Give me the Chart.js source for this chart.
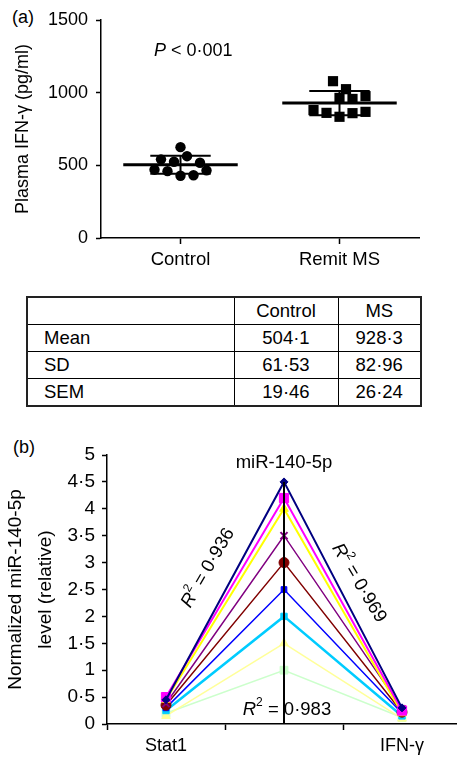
<!DOCTYPE html>
<html lang="en">
<head>
<meta charset="UTF-8">
<title>Plasma IFN-γ and miR-140-5p</title>
<script src="https://cdn.jsdelivr.net/npm/chart.js"></script>
<style>
  body { margin: 0; width: 457px; height: 757px; overflow: hidden; background: #fff; position: relative;
         font-family: "Liberation Sans", Arial, sans-serif; color: #000; }
  .tag { position: absolute; font-size: 18px; }
  #boxA { position: absolute; left: 0; top: 0; width: 457px; height: 280px; }
  #boxB { position: absolute; left: 0; top: 420px; width: 470px; height: 337px; }
  #stats { position: absolute; left: 26px; top: 296px; width: 394px; border-collapse: collapse;
           border: 2px solid #222; font-size: 18.5px; table-layout: fixed; }
  #stats td { border: 1px solid #000; height: 26px; padding: 0; text-align: center; }
  #stats td:first-child { text-align: left; padding-left: 16px; }
</style>
</head>
<body>
<div class="tag" style="left:12px;top:7px">(a)</div>
<div id="boxA"><canvas id="chartA"></canvas></div>

<table id="stats">
  <colgroup><col style="width:207px"><col style="width:104px"><col style="width:83px"></colgroup>
  <tbody id="statsBody"></tbody>
</table>

<div class="tag" style="left:13px;top:437px">(b)</div>
<div id="boxB"><canvas id="chartB"></canvas></div>

<script>
  // panel (a): plasma IFN-γ (pg/ml)
  const groups = ['Control', 'Remit MS'];
  const controlIFNg = [625, 541, 525, 563, 518, 470, 460, 428, 432, 465];
  const remitIFNg = [1079, 1024, 964, 957, 976, 880, 861, 834, 859, 868];

  // summary table
  const statCols = ['Control', 'MS'];
  const statRows = ['Mean', 'SD', 'SEM'];
  const controlStats = [504.1, 61.53, 19.46];
  const msStats = [928.3, 82.96, 26.24];

  // panel (b): normalized miR-140-5p level
  const bCategories = ['Stat1', 'miR-140-5p', 'IFN-γ'];
  const stat1Level = [0.45, 0.5, 0.45, 0.38, 0.35, 0.3, 0.25, 0.15, 0.2];
  const mirLevel = [4.5, 4.2, 4.0, 3.5, 3.0, 2.5, 2.0, 1.5, 1.0];
  const ifngLevel = [0.3, 0.25, 0.2, 0.28, 0.22, 0.2, 0.15, 0.1, 0.12];
  const r2Values = [0.936, 0.969, 0.983];

  const FONT = '"Liberation Sans", Arial, sans-serif';
  const dot = v => String(v).replace('.', '·');

  // text with italic / superscript parts, drawn centred at (0,0)
  function drawRich(ctx, parts, size) {
    const fontFor = p => (p.italic ? 'italic ' : '') + (p.sup ? size * 0.65 : size) + 'px ' + FONT;
    let w = 0;
    parts.forEach(p => { ctx.font = fontFor(p); w += ctx.measureText(p.t).width; });
    let x = -w / 2;
    ctx.fillStyle = '#000';
    ctx.textBaseline = 'middle';
    ctx.textAlign = 'left';
    parts.forEach(p => {
      ctx.font = fontFor(p);
      ctx.fillText(p.t, x, p.sup ? -size * 0.38 : 0);
      x += ctx.measureText(p.t).width;
    });
  }

  const notesPlugin = {
    id: 'notes',
    afterDraw(chart, args, opts) {
      const { ctx, scales: { x, y } } = chart;
      (opts.items || []).forEach(n => {
        ctx.save();
        ctx.translate(x.getPixelForValue(n.x), y.getPixelForValue(n.y));
        ctx.rotate((n.angle || 0) * Math.PI / 180);
        drawRich(ctx, n.parts, n.size);
        ctx.restore();
      });
    }
  };

  // ---- table ----
  const tbody = document.getElementById('statsBody');
  tbody.innerHTML = `<tr><td></td><td>${statCols[0]}</td><td>${statCols[1]}</td></tr>` +
    statRows.map((r, i) => `<tr><td>${r}</td><td>${dot(controlStats[i])}</td><td>${dot(msStats[i])}</td></tr>`).join('');

  // ---- chart (a) ----
  function barLines(center, mean, sd) {
    const cap = 0.19, half = 0.36;
    return {
      mean: [{ x: center - half, y: mean }, { x: center + half, y: mean }],
      sd: [
        { x: center - cap, y: mean + sd }, { x: center + cap, y: mean + sd }, { x: center, y: null },
        { x: center, y: mean + sd }, { x: center, y: mean - sd }, { x: center, y: null },
        { x: center - cap, y: mean - sd }, { x: center + cap, y: mean - sd }
      ]
    };
  }
  const barsC = barLines(1, controlStats[0], controlStats[1]);
  const barsM = barLines(2, msStats[0], msStats[1]);
  const lineSet = (data, w) => ({ type: 'scatter', data, showLine: true, borderColor: '#000', borderWidth: w,
                                  pointRadius: 0, spanGaps: false });

  const chartA = new Chart(document.getElementById('chartA'), {
    type: 'scatter',
    data: {
      datasets: [
        lineSet(barsC.mean, 3), lineSet(barsM.mean, 3), lineSet(barsC.sd, 2), lineSet(barsM.sd, 2),
        { data: controlIFNg.map(v => ({ x: 1, y: v })), pointStyle: 'circle', pointRadius: 5.2,
          backgroundColor: '#000', borderColor: '#000', borderWidth: 0 },
        { data: remitIFNg.map(v => ({ x: 2, y: v })), pointStyle: 'rect', pointRadius: 7.2,
          backgroundColor: '#000', borderColor: '#000', borderWidth: 0 }
      ]
    },
    options: {
      responsive: true, maintainAspectRatio: false, animation: false,
      layout: { padding: { top: 20, right: 38, left: 0, bottom: 0 } },
      plugins: {
        legend: { display: false }, tooltip: { enabled: false },
        notes: { items: [{ x: 1.08, y: 1285, size: 18, parts: [{ t: 'P', italic: true }, { t: ' < 0·001' }] }] }
      },
      scales: {
        x: {
          type: 'linear', min: 0.5, max: 2.5,
          afterBuildTicks: s => { s.ticks = [{ value: 1 }, { value: 2 }]; },
          afterFit: s => { s.height = 42; },
          ticks: { callback: v => groups[v - 1], color: '#000', font: { size: 18.5, family: FONT }, padding: 5, maxRotation: 0 },
          grid: { drawOnChartArea: false, tickLength: 6, tickColor: '#000', tickWidth: 1.5 },
          border: { color: '#000', width: 1.5 }
        },
        y: {
          min: 0, max: 1500,
          afterFit: s => { s.width = 101; },
          ticks: { stepSize: 500, callback: v => String(v), color: '#000', font: { size: 18, family: FONT }, padding: 8 },
          grid: { drawOnChartArea: false, tickLength: 5, tickColor: '#000', tickWidth: 1.5 },
          border: { color: '#000', width: 1.5 },
          title: { display: true, text: 'Plasma IFN-γ (pg/ml)', color: '#000',
                   font: { size: 18, family: FONT }, padding: { top: 12, bottom: 0 } }
        }
      }
    },
    plugins: [notesPlugin]
  });

  // spread the dots of each group sideways in rows so they do not overlap
  function swarm(chart) {
    const xs = chart.scales.x, ys = chart.scales.y;
    const pxX = xs.width / (xs.max - xs.min), pxY = ys.height / (ys.max - ys.min);
    const step = 13, diam = 10;
    [controlIFNg, remitIFNg].forEach((vals, g) => {
      const lo = Math.min(...vals), rows = {}, placed = [], off = vals.map(() => 0);
      vals.forEach((v, i) => { const r = Math.floor((v - lo) * pxY / step); (rows[r] = rows[r] || []).push(i); });
      Object.keys(rows).map(Number).sort((a, b) => b - a).forEach(r => {
        const idx = rows[r];
        const base = idx.map((_, k) => (k - (idx.length - 1) / 2) * step);
        for (let s = 0; s < 30; s++) {
          const shift = (s % 2 ? -1 : 1) * Math.ceil(s / 2) * step / 2;
          const ok = idx.every((i, k) => placed.every(p =>
            Math.hypot(base[k] + shift - p.x, (vals[i] - p.v) * pxY) >= diam));
          if (ok) {
            idx.forEach((i, k) => { off[i] = base[k] + shift; placed.push({ x: off[i], v: vals[i] }); });
            break;
          }
        }
      });
      chart.data.datasets[4 + g].data = vals.map((v, i) => ({ x: g + 1 + off[i] / pxX, y: v }));
    });
    chart.update('none');
  }
  swarm(chartA);

  // ---- chart (b) ----
  const colors = ['#000080', '#ff00ff', '#ffff00', '#800080', '#800000', '#0000ff', '#00ccff', '#ffff99', '#ccffcc'];
  const shapes = ['rectRot', 'rect', 'triangle', 'crossRot', 'circle', 'rect', 'rect', 'triangle', 'rect'];
  const radii = [4, 6.5, 5, 5, 5, 4, 4.5, 5, 5.5];
  const widths = [2, 2, 2, 1.5, 1.5, 1.5, 2.5, 1.5, 1.5];

  const seriesB = colors.map((c, i) => ({
    data: [stat1Level[i], mirLevel[i], ifngLevel[i]],
    borderColor: c, backgroundColor: c, borderWidth: widths[i],
    pointStyle: shapes[i], pointRadius: radii[i], pointBorderWidth: shapes[i] === 'crossRot' ? 2 : 1,
    pointBorderColor: c, pointBackgroundColor: c, tension: 0
  }));
  seriesB.unshift({
    data: [{ x: bCategories[1], y: 0 }, { x: bCategories[1], y: Math.max(...mirLevel) }],
    borderColor: '#000', borderWidth: 2, pointRadius: 0
  });

  const r2 = v => [{ t: 'R', italic: true }, { t: '2', sup: true }, { t: ' = ' + dot(v) }];

  new Chart(document.getElementById('chartB'), {
    type: 'line',
    data: { labels: bCategories, datasets: seriesB },
    options: {
      responsive: true, maintainAspectRatio: false, animation: false,
      layout: { padding: { top: 35, right: 9, left: 0, bottom: 0 } },
      plugins: {
        legend: { display: false }, tooltip: { enabled: false },
        notes: { items: [
          { x: 1, y: 4.85, size: 18.5, parts: [{ t: bCategories[1] }] },
          { x: 0.356, y: 2.9, angle: -60, size: 18.5, parts: r2(r2Values[0]) },
          { x: 1.636, y: 2.62, angle: 59, size: 18.5, parts: r2(r2Values[1]) },
          { x: 1.025, y: 0.26, size: 18.5, parts: r2(r2Values[2]) }
        ] }
      },
      scales: {
        x: {
          type: 'category', offset: true,
          afterFit: s => { s.height = 33; },
          ticks: { callback: (v, i) => i === 1 ? '' : bCategories[i], color: '#000',
                   font: { size: 18, family: FONT }, padding: 5, maxRotation: 0, autoSkip: false },
          grid: { offset: true, drawOnChartArea: false, tickLength: 6, tickColor: '#000', tickWidth: 1.5 },
          border: { color: '#000', width: 1.5 }
        },
        y: {
          min: 0, max: 5,
          afterFit: s => { s.width = 107; },
          ticks: { stepSize: 0.5, callback: v => dot(v), color: '#000', font: { size: 19, family: FONT }, padding: 7 },
          grid: { drawOnChartArea: false, tickLength: 5, tickColor: '#000', tickWidth: 1.5 },
          border: { color: '#000', width: 1.5 },
          title: { display: true, text: ['Normalized miR-140-5p', 'level (relative)'], color: '#000',
                   font: { size: 19, family: FONT, lineHeight: 1.58 }, padding: { top: 1, bottom: 0 } }
        }
      }
    },
    plugins: [notesPlugin]
  });
</script>
</body>
</html>
